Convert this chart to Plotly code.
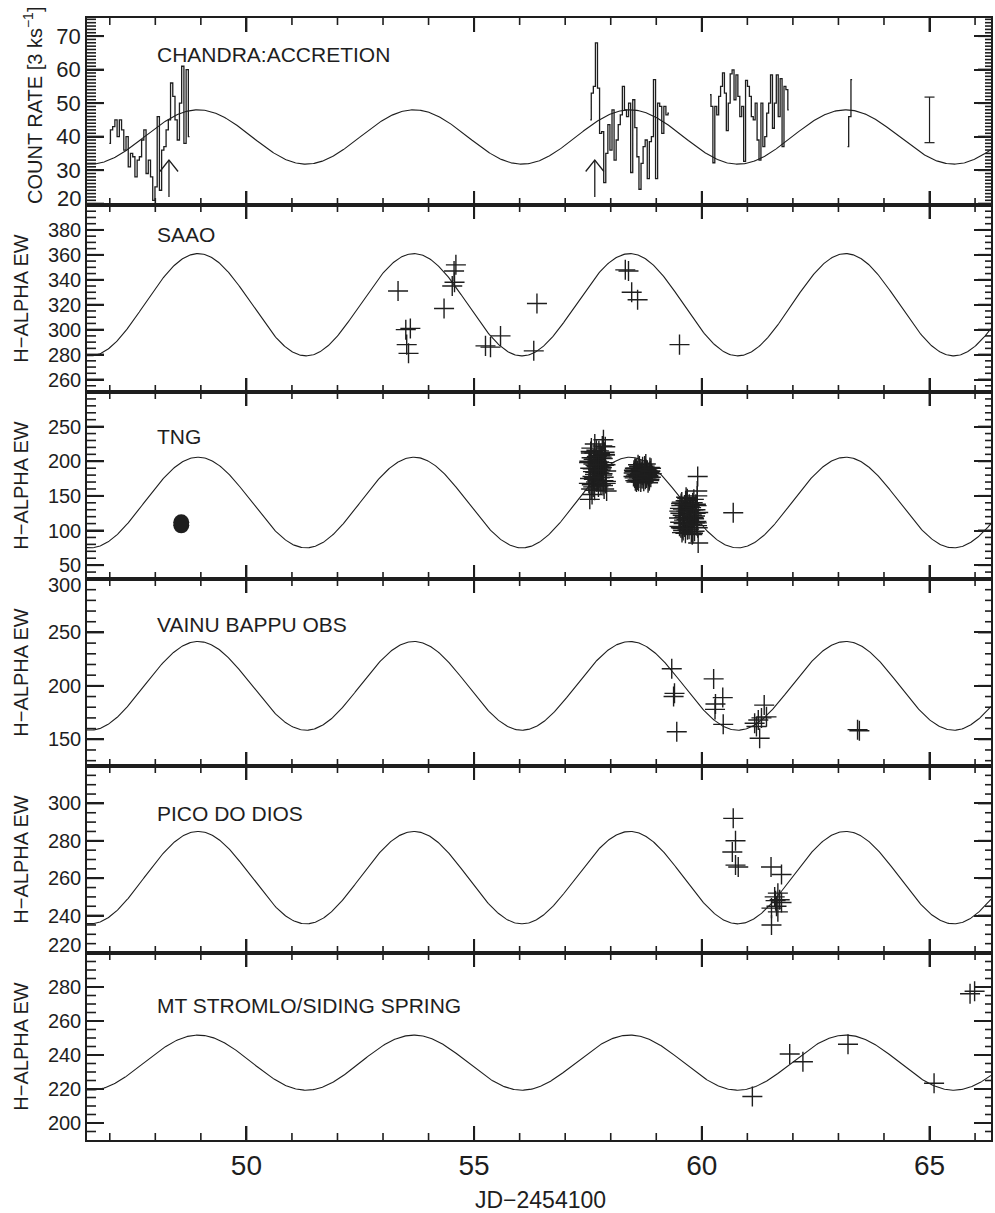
import numpy as np
import plotly.graph_objects as go
from plotly.subplots import make_subplots

INK = "#1e1e1e"
FONT = "Liberation Sans, Arial, Helvetica, sans-serif"

# ---- time axis (JD - 2454100)
t_range = [46.5, 66.35]
t_major, t_minor = 5, 1

# ---- modulation shared by all panels
period_d = 4.74
t_max = 48.94
fit_mean = [39.9, 320.0, 140.4, 200.0, 260.3, 235.5]
fit_amp = [8.1, 41.0, 65.4, 41.5, 24.7, 16.2]

# ---- panel y axes
y_ranges = [[19.6, 75.4], [250, 400], [30, 300], [125, 300], [220, 320], [190, 300]]
y_ticks = [[20, 30, 40, 50, 60, 70], [260, 280, 300, 320, 340, 360, 380],
           [50, 100, 150, 200, 250], [150, 200, 250, 300],
           [220, 240, 260, 280, 300], [200, 220, 240, 260, 280]]
# labels sitting on a panel edge are nudged inward
edge_tick = [20, None, None, 300, 220, None]
edge_shift = [5, 0, 0, -6, 8, 0]
y_minor = [1, 5, 10, 10, 5, 5]
y_font_size = [22, 20, 20, 20, 20, 20]
panel_names = ["CHANDRA:ACCRETION", "SAAO", "TNG", "VAINU BAPPU OBS",
               "PICO DO DIOS", "MT STROMLO/SIDING SPRING"]
name_t = 48.0
name_y = [64.4, 376, 236, 257, 294.4, 269.3]

# ---- Chandra light curve (counts per 3 ks), one list per continuous stretch
seg_start = [46.99, 57.55, 60.18, 63.20]
seg_end = [48.75, 59.28, 61.91, 63.30]
seg1_rate = [38, 42, 43, 45, 40, 45, 42, 36, 40, 31, 35, 34, 28, 33, 34, 39, 42, 29,
             33, 28, 21, 25, 46, 24, 36, 37, 42, 45, 56, 52, 45, 39, 50, 61, 38, 60, 40]
seg2_rate = [45, 53, 55, 68, 54.5, 41, 41.5, 26.3, 35, 43.6, 36, 48, 33, 39, 43.6, 46.5,
             55, 48, 46, 50, 29.3, 51, 42.7, 34, 24.3, 32, 37, 39, 27.5, 38.5, 40, 57,
             27.5, 50, 49, 41, 49, 46.5, 47]
seg3_rate = [52.5, 49, 32.2, 49, 46.5, 52, 55, 59, 53, 41.8, 50, 58.7, 59.9, 51, 58.4,
             52, 46, 49, 32.6, 56.8, 55, 52, 46, 45, 50, 39, 33, 50, 37, 40, 47, 50,
             58.4, 42.5, 50, 58.4, 46, 57.3, 37, 55, 54, 48]
seg4_rate = [37, 46, 57]
seg_rates = [seg1_rate, seg2_rate, seg3_rate, seg4_rate]

# typical error bar of a light-curve bin
err_t, err_rate, err_size = 65.0, 45.0, 6.8
# flare markers
arrow_t = [48.30, 57.65]
arrow_base, arrow_tip = 22.0, 33.0

# ---- H-alpha equivalent widths
saao_t = [53.33, 53.50, 53.60, 53.52, 53.56, 54.34, 54.52, 54.56, 54.60, 54.57,
          55.25, 55.36, 55.58, 56.31, 56.38, 58.32, 58.39, 58.46, 58.59, 59.51]
saao_ew = [331, 300, 301, 288, 281, 317, 335, 347, 352, 338,
           287, 286, 295, 283, 321, 348, 347, 330, 324, 288]

tng_t = [57.52, 57.55, 57.58, 57.60, 57.62, 57.64, 57.66, 57.68, 57.70, 57.72,
         57.74, 57.76, 57.78, 57.80, 57.82, 57.84, 57.86, 57.88, 57.90, 57.53,
         57.57, 57.61, 57.65, 57.69, 57.73, 57.77, 57.81, 57.85, 57.89, 57.56,
         57.63, 57.71, 57.79, 57.87, 57.59, 57.67, 57.75, 57.83, 57.54, 57.91,
         57.84,
         57.525, 57.545, 57.565, 57.585, 57.605, 57.625, 57.645, 57.665, 57.685, 57.705,
         57.725, 57.745, 57.765, 57.785, 57.805, 57.825, 57.845, 57.865, 57.885, 57.895,
         57.575, 57.615, 57.655, 57.695, 57.735, 57.775, 57.815, 57.855, 57.875, 57.635,
         58.50, 58.52, 58.54, 58.56, 58.58, 58.60, 58.62, 58.64, 58.66, 58.68,
         58.70, 58.72, 58.74, 58.76, 58.78, 58.80, 58.82, 58.84, 58.86, 58.88,
         58.90, 58.51, 58.55, 58.59, 58.63, 58.67, 58.71, 58.75, 58.79, 58.83,
         58.87, 58.53, 58.61, 58.69, 58.77, 58.85,
         58.505, 58.525, 58.545, 58.565, 58.585, 58.605, 58.625, 58.645, 58.665, 58.685,
         58.705, 58.725, 58.745, 58.765, 58.785, 58.805, 58.825, 58.845, 58.865, 58.885,
         59.50, 59.52, 59.54, 59.56, 59.58, 59.60, 59.62, 59.64, 59.66, 59.68,
         59.70, 59.72, 59.74, 59.76, 59.78, 59.80, 59.82, 59.84, 59.86, 59.88,
         59.90, 59.92, 59.51, 59.55, 59.59, 59.63, 59.67, 59.71, 59.75, 59.79,
         59.83, 59.87, 59.91, 59.53, 59.61, 59.69, 59.77, 59.85, 59.91, 59.92,
         59.90, 59.89,
         59.505, 59.525, 59.545, 59.565, 59.585, 59.605, 59.625, 59.645, 59.665, 59.685,
         59.705, 59.725, 59.745, 59.765, 59.785, 59.805, 59.825, 59.845, 59.865, 59.885,
         59.575, 59.655, 59.735, 59.815, 59.895,
         60.69]
tng_ew = [168, 190, 205, 178, 196, 212, 184, 170, 200, 188,
          215, 176, 193, 206, 182, 172, 198, 221, 186, 200,
          160, 185, 225, 192, 163, 208, 180, 194, 168, 214,
          174, 197, 189, 210, 152, 203, 183, 165, 145, 157,
          231,
          198, 175, 212, 166, 189, 203, 158, 194, 216, 172,
          183, 199, 211, 167, 191, 204, 177, 213, 195, 171,
          219, 163, 181, 207, 195, 187, 222, 160, 209, 177,
          178, 185, 172, 190, 181, 195, 176, 187, 170, 183,
          192, 179, 186, 174, 188, 181, 169, 184, 191, 177,
          182, 187, 180, 173, 193, 184, 175, 189, 182, 178,
          186, 190, 171, 180, 196, 174,
          183, 176, 189, 170, 186, 179, 192, 182, 188, 175,
          184, 171, 193, 180, 176, 187, 179, 172, 185, 190,
          118, 132, 104, 141, 122, 110, 137, 96, 128, 146,
          115, 102, 134, 124, 108, 140, 119, 99, 130, 113,
          150, 126, 106, 136, 100, 121, 143, 112, 129, 94,
          117, 138, 104, 125, 115, 134, 98, 121, 178, 82,
          157, 111,
          128, 112, 139, 97, 131, 119, 105, 143, 116, 101,
          127, 138, 109, 133, 122, 96, 145, 111, 125, 136,
          103, 148, 118, 130, 107,
          125.6]
tng_dot_t = [48.57, 48.57]
tng_dot_ew = [107.5, 111.8]

vbo_t = [59.34, 59.40, 59.38, 59.45, 60.26, 60.30, 60.29, 60.46, 60.47, 61.16,
         61.24, 61.31, 61.37, 61.27, 61.42, 61.20, 63.42, 63.46]
vbo_ew = [216, 193, 190, 157, 206.5, 183, 178, 189, 164, 165,
          168, 170, 182, 151, 171, 162, 159, 158]

pdd_t = [60.69, 60.74, 60.67, 60.74, 60.80, 61.52, 61.75, 61.60, 61.67, 61.71,
         61.64, 61.53, 61.67, 61.75, 61.62, 61.53]
pdd_ew = [292, 280, 274, 267, 266, 266, 262, 250, 252, 248.5,
          245, 244, 242, 247, 248, 235]

msss_t = [61.11, 61.93, 62.22, 63.21, 65.10, 65.89, 65.99]
msss_ew = [215.6, 240.6, 236, 246.3, 223.4, 276, 277.5]

# ---------------------------------------------------------------------------
fig = make_subplots(rows=6, cols=1, shared_xaxes=True, vertical_spacing=0)

t_model = np.linspace(t_range[0], t_range[1], 900)
for i in range(6):
    ym = fit_mean[i] + fit_amp[i] * np.cos(2 * np.pi * (t_model - t_max) / period_d)
    fig.add_trace(go.Scatter(x=t_model, y=ym, mode="lines",
                             line=dict(color=INK, width=1.1)), row=i + 1, col=1)

# light curve as histogram steps
for t0, t1, rate in zip(seg_start, seg_end, seg_rates):
    tt = np.linspace(t0, t1, len(rate))
    fig.add_trace(go.Scatter(x=tt, y=rate, mode="lines",
                             line=dict(color=INK, width=1.3, shape="hvh")), row=1, col=1)

# error bar drawn as a capped vertical segment
cap = 0.11
lo, hi = err_rate - err_size, err_rate + err_size
fig.add_trace(go.Scatter(x=[err_t, err_t, None, err_t - cap, err_t + cap, None,
                            err_t - cap, err_t + cap],
                         y=[lo, hi, None, lo, lo, None, hi, hi], mode="lines",
                         line=dict(color=INK, width=1.2)), row=1, col=1)

# arrows: shaft plus open head
head_hw = 0.2
head_h = 3.4
ax_, ay_ = [], []
for t in arrow_t:
    ax_ += [t, t, None, t - head_hw, t, t + head_hw, None]
    ay_ += [arrow_base, arrow_tip, None, arrow_tip - head_h, arrow_tip, arrow_tip - head_h, None]
fig.add_trace(go.Scatter(x=ax_, y=ay_, mode="lines", line=dict(color=INK, width=1.3)),
              row=1, col=1)

cross = dict(symbol="cross-thin", size=14.3, color=INK, line=dict(width=1.4, color=INK))
for row, (tx, ew) in zip([2, 3, 4, 5, 6],
                         [(saao_t, saao_ew), (tng_t, tng_ew), (vbo_t, vbo_ew),
                          (pdd_t, pdd_ew), (msss_t, msss_ew)]):
    fig.add_trace(go.Scatter(x=tx, y=ew, mode="markers", marker=cross), row=row, col=1)

fig.add_trace(go.Scatter(x=tng_dot_t, y=tng_dot_ew, mode="markers",
                         marker=dict(symbol="circle", size=16, color=INK)), row=3, col=1)

axis_base = dict(showline=True, linecolor=INK, linewidth=1.5, ticks="inside",
                 tickcolor=INK, mirror="ticks", showgrid=False, zeroline=False)
for i in range(6):
    fig.update_xaxes(range=t_range, tickmode="linear", tick0=0, dtick=t_major,
                     ticklen=14, tickwidth=2,
                     tickfont=dict(family=FONT, size=28, color=INK),
                     row=i + 1, col=1, **axis_base)
    labels = ["" if v == edge_tick[i] else str(v) for v in y_ticks[i]]
    fig.update_yaxes(range=y_ranges[i], tickmode="array", tickvals=y_ticks[i],
                     ticktext=labels, ticklen=17, tickwidth=2,
                     tickfont=dict(family=FONT, size=y_font_size[i], color=INK),
                     row=i + 1, col=1, **axis_base)


def tick_positions(lo, hi, step):
    start = np.ceil(lo / step - 1e-9) * step
    vals = np.arange(start, hi + 1e-9, step)
    return [float(v) for v in vals if lo + 1e-9 < v < hi - 1e-9]


# tick marks on all four sides of every panel, placed on the axis scales
tick_shapes = []
x_all = tick_positions(t_range[0], t_range[1], t_minor)
for i in range(6):
    sfx = "" if i == 0 else str(i + 1)
    for v in x_all:
        major = abs(v / t_major - round(v / t_major)) < 1e-9
        ln, w = (14, 2) if major else (7, 1.6)
        for anchor, sign in ((0, 1), (1, -1)):
            tick_shapes.append(dict(type="line", xref="x" + sfx, yref="y" + sfx + " domain",
                                    x0=v, x1=v, ysizemode="pixel", yanchor=anchor,
                                    y0=0, y1=sign * ln, line=dict(color=INK, width=w)))
    lo_y, hi_y = y_ranges[i]
    for v in tick_positions(lo_y, hi_y, y_minor[i]):
        major = any(abs(v - m) < 1e-9 for m in y_ticks[i])
        for anchor, sign, ln_major, ln_minor in ((0, 1, 17, 9), (1, -1, 13, 6)):
            ln, w = (ln_major, 2) if major else (ln_minor, 1.6)
            tick_shapes.append(dict(type="line", xref="x" + sfx + " domain", yref="y" + sfx,
                                    y0=v, y1=v, xsizemode="pixel", xanchor=anchor,
                                    x0=0, x1=sign * ln, line=dict(color=INK, width=w)))

annotations = []
for i, name in enumerate(panel_names):
    sfx = "" if i == 0 else str(i + 1)
    annotations.append(dict(x=name_t, y=name_y[i], xref="x" + sfx, yref="y" + sfx,
                            text=name, showarrow=False, xanchor="left", yanchor="middle",
                            font=dict(family=FONT, size=21, color=INK)))
    if i == 0:
        title, xpx, ypos = "COUNT RATE [3 ks<sup>−1</sup>]", 33, 0.53
    else:
        title, xpx, ypos = "H−ALPHA EW", 20, 0.5
    annotations.append(dict(x=(xpx - 87) / 906, y=ypos, xref="paper",
                            yref="y" + sfx + " domain", text=title, textangle=-90,
                            showarrow=False, xanchor="center", yanchor="middle",
                            font=dict(family=FONT, size=20, color=INK)))
    if edge_tick[i] is not None:
        annotations.append(dict(x=(83 - 87) / 906, y=edge_tick[i], xref="paper",
                                yref="y" + sfx, text=str(edge_tick[i]), showarrow=False,
                                xanchor="right", yanchor="middle", yshift=edge_shift[i],
                                font=dict(family=FONT, size=y_font_size[i], color=INK)))
annotations.append(dict(x=(542 - 87) / 906, y=-(1200 - 1140) / 1122, xref="paper",
                        yref="paper", text="JD−2454100", showarrow=False,
                        xanchor="center", yanchor="middle",
                        font=dict(family=FONT, size=23, color=INK)))

fig.update_layout(width=995, height=1213, margin=dict(l=87, r=2, t=18, b=73),
                  plot_bgcolor="white", paper_bgcolor="white", showlegend=False,
                  annotations=annotations, shapes=tick_shapes,
                  font=dict(family=FONT, color=INK))

fig.write_html("out.html")
